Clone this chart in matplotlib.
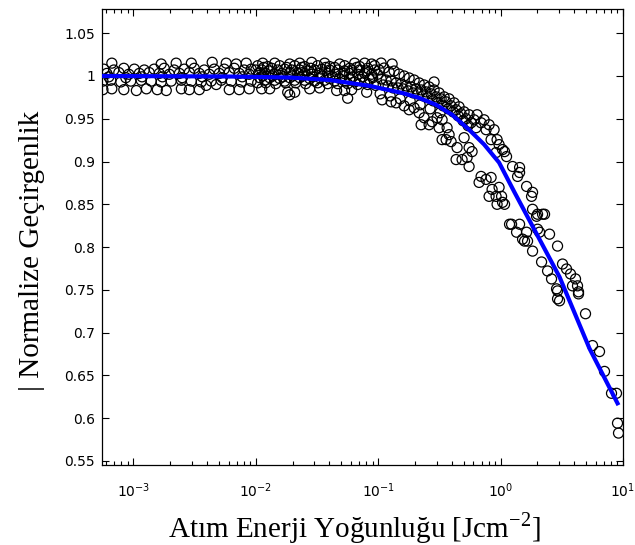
import matplotlib
matplotlib.use('Agg')
import matplotlib.pyplot as plt
from matplotlib.ticker import FixedLocator, FixedFormatter, LogLocator, NullFormatter

# fitted curve
fit_x = [5.55e-4, 6.08e-3, 0.01895, 0.04018, 0.08525, 0.157, 0.2162, 0.2975,
         0.4018, 0.5532, 0.7334, 0.9724, 1.30, 1.825, 3.031, 5.327, 9.02]
fit_y = [1.000, 0.9994, 0.9982, 0.9953, 0.9884, 0.9802, 0.9744, 0.9663,
         0.9547, 0.9372, 0.920, 0.8988, 0.864, 0.8244, 0.7651, 0.6814, 0.6174]

# measured points, low fluence (1e-3 .. 1e-2)
low_x = [6.68e-4, 1.69e-3, 2.24e-3, 2.98e-3, 4.41e-3, 5.74e-3, 6.93e-3, 8.37e-3,
         5.74e-4, 6.93e-4, 8.37e-4, 1.02e-3, 1.23e-3, 1.48e-3, 1.79e-3, 2.16e-3,
         2.61e-3, 3.15e-3, 3.80e-3, 4.58e-3, 5.53e-3, 6.68e-3, 8.06e-3, 9.19e-3,
         6.08e-4, 7.62e-4, 9.19e-4, 1.12e-3, 1.35e-3, 1.63e-3, 1.97e-3, 2.38e-3,
         2.87e-3, 3.46e-3, 4.17e-3, 5.04e-3, 6.08e-3, 7.33e-3, 8.85e-3,
         6.31e-4, 8.69e-4, 1.18e-3, 1.73e-3, 2.51e-3, 3.66e-3, 5.33e-3, 7.76e-3,
         5.65e-4, 6.55e-4, 7.91e-4, 9.54e-4, 1.16e-3, 1.40e-3, 1.69e-3, 2.04e-3,
         2.47e-3, 2.98e-3, 3.59e-3, 4.33e-3, 5.23e-3, 6.31e-3, 7.62e-3, 9.19e-3,
         5.65e-4, 6.68e-4, 8.37e-4, 1.06e-3, 1.28e-3, 1.57e-3, 1.86e-3, 2.47e-3,
         2.87e-3, 3.46e-3, 6.08e-3, 7.33e-3, 8.85e-3, 3.94e-3, 4.76e-3]
low_y = [1.015, 1.014, 1.015, 1.015, 1.016, 1.015, 1.014, 1.015,
         1.008, 1.007, 1.009, 1.008, 1.007, 1.008, 1.009, 1.007,
         1.008, 1.009, 1.007, 1.008, 1.008, 1.009, 1.007, 1.008,
         1.003, 1.004, 1.002, 1.003, 1.004, 1.003, 1.002, 1.003,
         1.004, 1.003, 1.002, 1.003, 1.004, 1.003, 1.002,
         0.999, 0.998, 0.999, 0.999, 0.998, 0.999, 0.998, 0.999,
         0.994, 0.995, 0.993, 0.994, 0.995, 0.994, 0.993, 0.994,
         0.995, 0.994, 0.993, 0.994, 0.995, 0.994, 0.993, 0.994,
         0.984, 0.985, 0.984, 0.983, 0.985, 0.984, 0.983, 0.985,
         0.984, 0.984, 0.984, 0.984, 0.985, 0.989, 0.990]

# measured points, 1e-2 .. 1e-1
mid_x = [0.01141, 0.0143, 0.01895, 0.02287, 0.02865, 0.03658, 0.04849, 0.0643, 0.0776, 0.08852,
         0.01038, 0.01253, 0.0157, 0.02082, 0.02512, 0.03207, 0.04018, 0.05327, 0.07063, 0.09365,
         0.01162, 0.01351, 0.01791, 0.02375, 0.02812, 0.03727, 0.04414, 0.05853, 0.06676, 0.0821,
         0.0100, 0.01119, 0.01301, 0.01512, 0.01725, 0.01968, 0.02287, 0.02658, 0.03031,
         0.03457, 0.04018, 0.0467, 0.05327, 0.06077, 0.07063, 0.08057, 0.09365,
         0.01058, 0.01207, 0.01403, 0.01631, 0.01895, 0.02203, 0.02512, 0.02865, 0.0333,
         0.0387, 0.04498, 0.05228, 0.05853, 0.06803, 0.0776, 0.08852, 0.09909,
         0.01141, 0.01377, 0.01661, 0.02005, 0.0242, 0.0292, 0.03523, 0.04251, 0.05131,
         0.06193, 0.07473, 0.0902,
         0.01078, 0.01301, 0.0157, 0.01895, 0.02287, 0.0276, 0.0333, 0.04018, 0.04849,
         0.05853, 0.07063, 0.08525,
         0.01184, 0.0143, 0.01725, 0.02082, 0.02512, 0.03031, 0.03658, 0.04414, 0.05327,
         0.0643, 0.0776,
         0.01038, 0.01207, 0.01457, 0.01758, 0.02121, 0.0256, 0.03207, 0.0387, 0.0467,
         0.05637, 0.06803, 0.0821, 0.09543,
         0.01119, 0.01301, 0.01825, 0.02082, 0.01895, 0.0276, 0.0333, 0.04583, 0.05327,
         0.06077, 0.05637, 0.08057]
mid_y = [1.015, 1.015, 1.014, 1.015, 1.016, 1.015, 1.014, 1.015, 1.015, 1.014,
         1.012, 1.011, 1.012, 1.012, 1.011, 1.012, 1.011, 1.012, 1.011, 1.012,
         1.010, 1.009, 1.010, 1.010, 1.009, 1.010, 1.010, 1.009, 1.010, 1.009,
         1.007, 1.007, 1.006, 1.007, 1.008, 1.007, 1.007, 1.006, 1.007,
         1.008, 1.007, 1.007, 1.006, 1.007, 1.007, 1.006, 1.007,
         1.003, 1.003, 1.002, 1.003, 1.004, 1.003, 1.003, 1.002, 1.003,
         1.003, 1.002, 1.003, 1.003, 1.002, 1.003, 1.002, 1.002,
         1.000, 1.000, 0.999, 1.000, 1.000, 0.999, 1.000, 0.999, 1.000,
         0.999, 0.999, 0.998,
         0.998, 0.998, 0.997, 0.998, 0.998, 0.997, 0.998, 0.997, 0.997,
         0.997, 0.996, 0.996,
         0.995, 0.995, 0.994, 0.995, 0.995, 0.994, 0.995, 0.994, 0.994,
         0.993, 0.993,
         0.992, 0.992, 0.991, 0.992, 0.992, 0.991, 0.992, 0.991, 0.991,
         0.991, 0.990, 0.990, 0.989,
         0.985, 0.985, 0.981, 0.981, 0.978, 0.985, 0.986, 0.983, 0.983,
         0.984, 0.974, 0.981]

# measured points, knee region 0.1 .. 0.6
knee_x = [0.1019, 0.1119, 0.123, 0.1351, 0.1484, 0.1631, 0.1791, 0.1968, 0.2162, 0.2375,
          0.2608, 0.2865, 0.3147, 0.3457, 0.3798, 0.4172, 0.4583, 0.5035, 0.5532, 0.6077,
          0.1058, 0.1162, 0.1277, 0.1403, 0.1541, 0.1693, 0.186, 0.2043, 0.2244, 0.2465,
          0.2708, 0.2975, 0.3268, 0.359, 0.3943, 0.4332, 0.4759, 0.5228, 0.5744, 0.631,
          0.1099, 0.1207, 0.1326, 0.1457, 0.16, 0.1758, 0.1931, 0.2121, 0.233,
          0.256, 0.2812, 0.3089, 0.3393, 0.3727, 0.4094, 0.4498, 0.4941, 0.5429,
          0.1038, 0.1253, 0.1512, 0.1825, 0.2203, 0.2658, 0.3207,
          0.1078, 0.1277, 0.1403, 0.1631, 0.1791, 0.1968, 0.2162, 0.2244, 0.2608, 0.276,
          0.3031, 0.333, 0.3658, 0.3798, 0.2375, 0.3147,
          0.2865, 0.1058, 0.1301]
knee_y = [1.007, 1.0093, 1.0047, 1.0058, 1.0023, 1.000, 0.9977, 0.9953, 0.9919, 0.9895,
          0.9872, 0.9837, 0.9802, 0.9756, 0.9733, 0.9686, 0.964, 0.9581, 0.9547, 0.9488,
          0.9965, 0.9953, 0.9942, 0.9919, 0.9907, 0.9884, 0.9872, 0.9849, 0.9837, 0.9814,
          0.9791, 0.9756, 0.9733, 0.9698, 0.9651, 0.9605, 0.9558, 0.950, 0.9453, 0.9395,
          0.9895, 0.9884, 0.986, 0.986, 0.9849, 0.9826, 0.9802, 0.9791, 0.9767,
          0.9744, 0.9709, 0.9686, 0.9651, 0.9616, 0.9581, 0.9535, 0.9477, 0.9419,
          0.9791, 0.9767, 0.9733, 0.9709, 0.9663, 0.9616, 0.957,
          0.9721, 0.9698, 0.9686, 0.9651, 0.9605, 0.9628, 0.957, 0.943, 0.943, 0.9465,
          0.9512, 0.9488, 0.9395, 0.9314, 0.9512, 0.9395,
          0.993, 1.0151, 1.014]

# measured points, high fluence tail
tail_x = [0.643, 0.6932, 0.7615, 0.8366, 0.9365, 1.078, 1.119, 1.253, 1.43, 1.377,
          1.631, 1.791, 1.968, 2.005, 0.7334, 0.8057, 0.8852, 0.9724, 1.038, 0.9191,
          1.43, 1.825, 2.203,
          2.287, 2.082, 2.512, 2.92, 3.207, 3.457, 3.727, 4.094, 3.87, 4.251, 4.332, 1.825, 2.005,
          0.359, 0.3943, 0.5035, 0.4414, 0.5532, 0.5853, 0.4332, 0.5327, 0.5532, 0.6932,
          0.6676, 0.8366, 0.8525, 0.9724, 1.019, 0.8057, 1.078, 0.9365, 1.184, 1.43,
          1.351, 1.631, 0.333, 0.4849, 0.7615, 0.9191, 1.038, 1.512,
          1.57, 1.661, 1.825, 2.162, 2.42, 2.608, 2.865, 2.92, 1.23,
          2.92, 3.031, 4.332, 4.941, 5.637, 6.43, 7.063, 8.057, 8.852, 9.02, 9.191]
tail_y = [0.9547, 0.9453, 0.9372, 0.9256, 0.9256, 0.9116, 0.9058, 0.8942, 0.893, 0.8826,
          0.8709, 0.8593, 0.836, 0.8209, 0.9488, 0.943, 0.9372, 0.9198, 0.914, 0.9105,
          0.8872, 0.864, 0.8384,
          0.8384, 0.8174, 0.8151, 0.8012, 0.7802, 0.7744, 0.7686, 0.7628, 0.7547, 0.7547, 0.7453, 0.8442, 0.8384,
          0.9256, 0.9233, 0.9279, 0.9163, 0.9163, 0.9116, 0.9023, 0.9047, 0.8942, 0.8826,
          0.8756, 0.8814, 0.8674, 0.8698, 0.8593, 0.8593, 0.85, 0.85, 0.8267, 0.8267,
          0.8174, 0.8174, 0.9256, 0.9023, 0.8791, 0.8593, 0.8523, 0.8093,
          0.807, 0.807, 0.7953, 0.7826, 0.7721, 0.7628, 0.7512, 0.7395, 0.8267,
          0.7488, 0.7372, 0.7477, 0.7221, 0.6849, 0.6779, 0.6547, 0.6291, 0.6291, 0.5942, 0.5826]

y_ticks = [0.55, 0.6, 0.65, 0.7, 0.75, 0.8, 0.85, 0.9, 0.95, 1.0, 1.05]
y_tick_labels = ['0.55', '0.6', '0.65', '0.7', '0.75', '0.8', '0.85', '0.9', '0.95', '1', '1.05']

fig = plt.figure(figsize=(6.35, 5.45), dpi=100)
ax = fig.add_axes([0.1606, 0.1468, 0.8205, 0.8367])

all_x = low_x + mid_x + knee_x + tail_x
all_y = low_y + mid_y + knee_y + tail_y
ax.scatter(all_x, all_y, s=52, facecolors='none', edgecolors='black', linewidths=0.9, zorder=2)
ax.plot(fit_x, fit_y, color='#0000ff', linewidth=3.0, zorder=3)

ax.set_xscale('log')
ax.set_xlim(5.55e-4, 10)
ax.set_ylim(0.5453, 1.0783)

ax.xaxis.set_major_locator(LogLocator(base=10, numticks=10))
ax.xaxis.set_minor_locator(LogLocator(base=10, subs=range(2, 10), numticks=10))
ax.xaxis.set_minor_formatter(NullFormatter())
ax.yaxis.set_major_locator(FixedLocator(y_ticks))
ax.yaxis.set_major_formatter(FixedFormatter(y_tick_labels))

ax.tick_params(which='both', direction='in', top=True, right=True, labelsize=10)
ax.tick_params(which='major', length=5, width=0.8)
ax.tick_params(which='minor', length=3, width=0.8)
ax.tick_params(axis='x', pad=12)
ax.tick_params(axis='y', pad=5)
for sp in ax.spines.values():
    sp.set_linewidth(0.9)

ax.set_xlabel('Atım Enerji Yoğunluğu [Jcm$^{\\mathdefault{-2}}$]',
              family='Liberation Serif', fontsize=21)
ax.set_ylabel('| Normalize Geçirgenlik', family='Liberation Serif', fontsize=21)
ax.xaxis.set_label_coords(0.485, -0.098)
ax.yaxis.set_label_coords(-0.11, 0.47)

fig.savefig('out.png', dpi=100)
